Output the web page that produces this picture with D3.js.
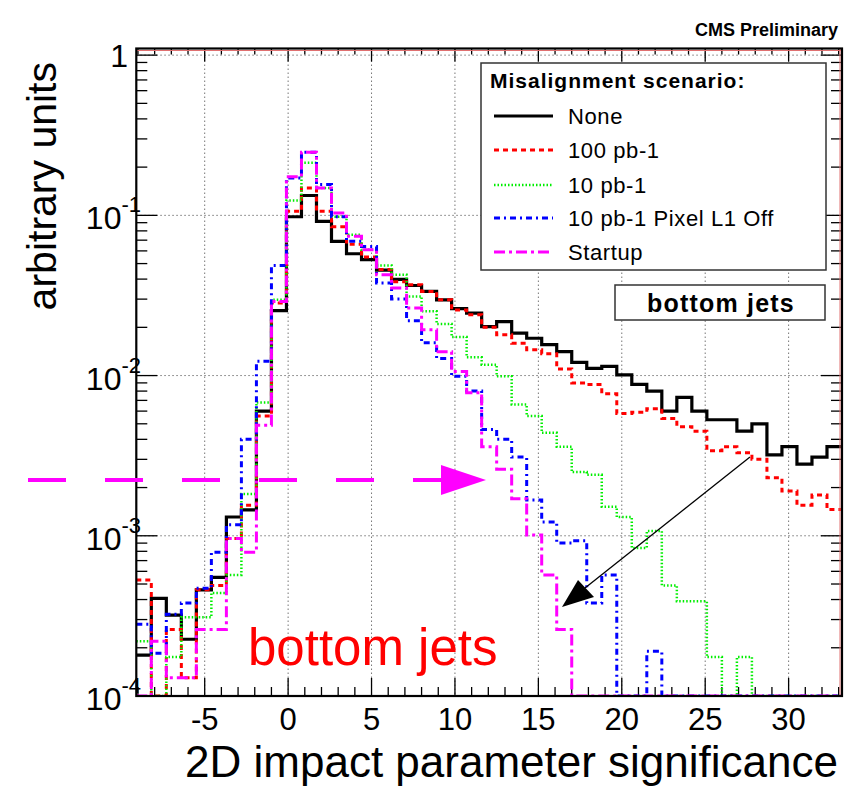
<!DOCTYPE html>
<html>
<head>
<meta charset="utf-8">
<script src="https://cdn.jsdelivr.net/npm/d3@7"></script>
<style>
  html, body { margin: 0; padding: 0; background: #fff; }
  svg { display: block; }
  text { font-family: "Liberation Sans", Arial, Helvetica, sans-serif; }
</style>
</head>
<body>
<svg id="chart" width="847" height="786"></svg>
<script>
// Histogram binning: 50 bins of width 0.9 starting at -10; bins 1..47 are shown.
const binStart = -9.1;
const binWidth = 0.9;

const seriesNames = ["None", "100 pb-1", "10 pb-1", "10 pb-1 Pixel L1 Off", "Startup"];

// normalised bin contents (arbitrary units), one entry per shown bin
const none = [
  1.8e-4, 4.07e-4, 3.2e-4, 2.26e-4, 4.6e-4, 5.5e-4, 1.31e-3, 1.45e-3, 6.0e-3, 0.0254,
  0.098, 0.133, 0.0917, 0.0688, 0.0576, 0.0529, 0.0455, 0.0398, 0.0365, 0.0335,
  0.0297, 0.0262, 0.0245, 0.0202, 0.0217, 0.0184, 0.0171, 0.0156, 0.0141, 0.0121,
  0.0111, 0.0114, 0.0101, 0.0088, 0.0080, 0.0060, 0.0073, 0.0060, 0.0053, 0.0053,
  0.0045, 0.0050, 0.0032, 0.0036, 0.0028, 0.0031, 0.0036
];
const pb100 = [
  5.3e-4, 0, 2.6e-4, 1.3e-4, 4.6e-4, 4.9e-4, 9.6e-4, 1.55e-3, 5.6e-3, 0.0284,
  0.106, 0.148, 0.106, 0.085, 0.066, 0.055, 0.046, 0.0385, 0.0369, 0.0335,
  0.0297, 0.0257, 0.0240, 0.0200, 0.0180, 0.0159, 0.0145, 0.0137, 0.0110, 0.0090,
  0.0088, 0.0077, 0.0058, 0.0059, 0.0062, 0.0054, 0.0048, 0.0045, 0.0034, 0.0036,
  0.0033, 0.0030, 0.0023, 0.0019, 0.00155, 0.0018, 0.00146
];
const pb10 = [
  2.2e-4, 0, 1.75e-4, 3.1e-4, 3.1e-4, 4.4e-4, 5.7e-4, 1.82e-3, 6.8e-3, 0.0297,
  0.124, 0.2126, 0.148, 0.098, 0.0757, 0.061, 0.0487, 0.0426, 0.0312, 0.0252,
  0.0210, 0.0174, 0.0130, 0.0117, 0.0099, 0.0066, 0.0056, 0.0044, 0.0036, 0.0025,
  0.0024, 0.00152, 0.00131, 8.4e-4, 1.07e-3, 4.9e-4, 3.9e-4, 3.9e-4, 1.75e-4, 0,
  1.75e-4, 0, 0, 0, 0, 0, 0
];
const pb10NoL1 = [
  2.8e-4, 1.85e-4, 3.24e-4, 3.8e-4, 4.7e-4, 7.9e-4, 1.17e-3, 4.0e-3, 0.0123, 0.0487,
  0.171, 0.248, 0.156, 0.098, 0.0688, 0.064, 0.0378, 0.030, 0.0220, 0.0160,
  0.0128, 0.0099, 0.0080, 0.0046, 0.0040, 0.0031, 0.00167, 0.00122, 9.0e-4, 9.3e-4,
  3.8e-4, 5.7e-4, 0, 0, 1.9e-4, 0, 0, 0, 0, 0,
  0, 0, 0, 0, 0, 0, 0
];
const startup = [
  0, 2.2e-4, 1.3e-4, 1.3e-4, 2.6e-4, 2.6e-4, 9.6e-4, 7.9e-4, 4.9e-3, 0.029,
  0.174, 0.248, 0.148, 0.1035, 0.074, 0.061, 0.0426, 0.0352, 0.0264, 0.0193,
  0.0141, 0.0106, 0.0078, 0.0036, 0.0026, 0.0017, 1.01e-3, 5.7e-4, 2.6e-4, 0,
  0, 0, 0, 0, 0, 0, 0, 0, 0, 0,
  0, 0, 0, 0, 0, 0, 0
];

const xTicks = [-5, 0, 5, 10, 15, 20, 25, 30];
const yTickExponents = [0, -1, -2, -3, -4];

const xTitle = "2D impact parameter significance";
const yTitle = "arbitrary units";
const legendTitle = "Misalignment scenario:";
const sampleLabel = "bottom jets";

const styles = [
  { color: "#000000", width: 3.2, dash: null },
  { color: "#ff0000", width: 3, dash: "5,4" },
  { color: "#00ee00", width: 2.5, dash: "1.5,2" },
  { color: "#0000ff", width: 3, dash: "6,4,2,4" },
  { color: "#ff00ff", width: 3, dash: "11,4,3,4" }
];
const series = [none, pb100, pb10, pb10NoL1, startup];

const nBins = none.length;
const xMin = binStart, xMax = binStart + nBins * binWidth;
const yMin = 1e-4, yMax = 1.1;

const frame = { left: 136.3, right: 842, top: 48.5, bottom: 696 };

const svg = d3.select("#chart");
const x = d3.scaleLinear().domain([xMin, xMax]).range([frame.left, frame.right]);
const y = d3.scaleLog().domain([yMin, yMax]).range([frame.bottom, frame.top]);

// grid
const grid = svg.append("g").attr("stroke", "#777").attr("stroke-width", 1)
  .attr("stroke-dasharray", "1.5,2.5");
xTicks.forEach(t => grid.append("line")
  .attr("x1", x(t)).attr("x2", x(t)).attr("y1", frame.top).attr("y2", frame.bottom));
yTickExponents.forEach(e => grid.append("line")
  .attr("x1", frame.left).attr("x2", frame.right)
  .attr("y1", y(Math.pow(10, e))).attr("y2", y(Math.pow(10, e))));

// ticks on all four sides
const ticks = svg.append("g").attr("stroke", "#000").attr("stroke-width", 1.3);
for (let v = Math.ceil(xMin); v <= Math.floor(xMax); v++) {
  const major = v % 5 === 0;
  const len = major ? 18 : 9;
  ticks.append("line").attr("x1", x(v)).attr("x2", x(v))
    .attr("y1", frame.bottom).attr("y2", frame.bottom - len);
  ticks.append("line").attr("x1", x(v)).attr("x2", x(v))
    .attr("y1", frame.top).attr("y2", frame.top + (major ? 13 : 6));
}
for (let e = -4; e <= 0; e++) {
  for (let m = 1; m <= 9; m++) {
    const v = m * Math.pow(10, e);
    if (v > yMax || v < yMin) continue;
    const len = m === 1 ? 21 : 11;
    ticks.append("line").attr("x1", frame.left).attr("x2", frame.left + len)
      .attr("y1", y(v)).attr("y2", y(v));
    ticks.append("line").attr("x1", frame.right).attr("x2", frame.right - len)
      .attr("y1", y(v)).attr("y2", y(v));
  }
}

// histograms
svg.append("defs").append("clipPath").attr("id", "plotClip")
  .append("rect").attr("x", frame.left).attr("y", frame.top - 2)
  .attr("width", frame.right - frame.left).attr("height", frame.bottom - frame.top + 2);

const step = d3.line()
  .x(d => x(d[0]))
  .y(d => y(Math.max(d[1], yMin)))
  .curve(d3.curveStepAfter);

const histG = svg.append("g").attr("clip-path", "url(#plotClip)");
series.forEach((vals, k) => {
  const pts = vals.map((v, i) => [binStart + i * binWidth, v]);
  pts.push([xMax, vals[vals.length - 1]]);
  histG.append("path")
    .attr("d", step(pts))
    .attr("fill", "none")
    .attr("stroke", styles[k].color)
    .attr("stroke-width", styles[k].width)
    .attr("stroke-dasharray", styles[k].dash)
    .attr("stroke-linejoin", "miter");
});

// frame, with the thin pad edge just inside the top and right sides
svg.append("line").attr("x1", frame.left).attr("x2", frame.right)
  .attr("y1", frame.top + 2).attr("y2", frame.top + 2)
  .attr("stroke", "#e07070").attr("stroke-width", 1);
svg.append("line").attr("x1", frame.right - 2).attr("x2", frame.right - 2)
  .attr("y1", frame.top).attr("y2", frame.bottom)
  .attr("stroke", "#e07070").attr("stroke-width", 1);
svg.append("rect")
  .attr("x", frame.left).attr("y", frame.top)
  .attr("width", frame.right - frame.left).attr("height", frame.bottom - frame.top)
  .attr("fill", "none").attr("stroke", "#000").attr("stroke-width", 2.2);

// x tick labels
svg.append("g").selectAll("text").data(xTicks).join("text")
  .attr("x", d => x(d)).attr("y", 730)
  .attr("text-anchor", "middle").attr("font-size", 31)
  .text(d => d);

// y tick labels (powers of ten)
const yl = svg.append("g");
yTickExponents.forEach(e => {
  const yy = y(Math.pow(10, e));
  if (e === 0) {
    yl.append("text").attr("x", 128).attr("y", yy + 12)
      .attr("text-anchor", "end").attr("font-size", 32).text("1");
  } else {
    const t = yl.append("text").attr("x", 141).attr("y", yy + 14)
      .attr("text-anchor", "end").attr("font-size", 32);
    t.append("tspan").text("10");
    t.append("tspan").attr("dy", -17).attr("font-size", 22).text(String(e));
  }
});

// axis titles
svg.append("text").attr("x", 838).attr("y", 777)
  .attr("text-anchor", "end").attr("font-size", 44).text(xTitle);
svg.append("text")
  .attr("transform", "translate(56,62) rotate(-90)")
  .attr("text-anchor", "end").attr("font-size", 41).text(yTitle);

// header
svg.append("text").attr("x", 838).attr("y", 36)
  .attr("text-anchor", "end").attr("font-size", 18).attr("font-weight", "bold")
  .attr("font-family", "'Liberation Sans Narrow', 'DejaVu Sans Condensed', 'Liberation Sans', sans-serif")
  .text("CMS Preliminary");

// legend
const lg = svg.append("g");
lg.append("rect").attr("x", 481).attr("y", 63).attr("width", 345).attr("height", 207)
  .attr("fill", "#fff").attr("stroke", "#333").attr("stroke-width", 1.5);
lg.append("text").attr("x", 490).attr("y", 88).attr("font-size", 21)
  .attr("letter-spacing", 1).attr("font-weight", "bold").text(legendTitle);
const rowY = [116, 150, 185, 218, 252];
seriesNames.forEach((name, k) => {
  lg.append("line").attr("x1", 494).attr("x2", 553)
    .attr("y1", rowY[k]).attr("y2", rowY[k])
    .attr("stroke", styles[k].color).attr("stroke-width", styles[k].width)
    .attr("stroke-dasharray", styles[k].dash);
  lg.append("text").attr("x", 568).attr("y", rowY[k] + 8)
    .attr("font-size", 22).attr("letter-spacing", 0.6).text(name);
});

// sample label box
svg.append("rect").attr("x", 615).attr("y", 285).attr("width", 210).attr("height", 35)
  .attr("fill", "#fff").attr("stroke", "#333").attr("stroke-width", 1.5);
svg.append("text").attr("x", 721).attr("y", 312).attr("text-anchor", "middle")
  .attr("font-size", 25).attr("letter-spacing", 1.2).attr("font-weight", "bold")
  .text(sampleLabel);

// annotations: dashed magenta arrow, black arrow, red caption
const ann = svg.append("g");
ann.append("line").attr("x1", 28).attr("x2", 443).attr("y1", 480).attr("y2", 480)
  .attr("stroke", "#ff00ff").attr("stroke-width", 4).attr("stroke-dasharray", "38,39");
ann.append("path").attr("d", "M441,465 L486,480 L441,495 Z").attr("fill", "#ff00ff");

ann.append("line").attr("x1", 750).attr("y1", 457).attr("x2", 585).attr("y2", 588)
  .attr("stroke", "#000").attr("stroke-width", 1.3);
ann.append("path").attr("d", "M562,607 L578,580 L594,597 Z").attr("fill", "#000");

ann.append("text").attr("x", 248).attr("y", 665)
  .attr("font-family", "'Open Sans', 'DejaVu Sans', sans-serif")
  .attr("font-size", 51).attr("fill", "#ff0000").text(sampleLabel);
</script>
</body>
</html>
